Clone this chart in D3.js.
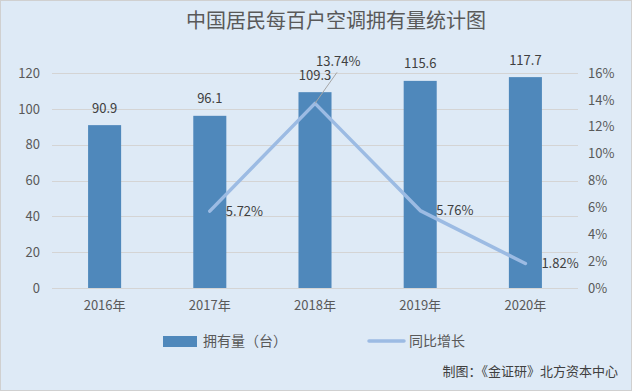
<!DOCTYPE html>
<html>
<head>
<meta charset="utf-8">
<script src="https://cdn.jsdelivr.net/npm/d3@7"></script>
<style>
  html, body { margin: 0; padding: 0; background: #fff; }
  svg text { font-family: "Noto Sans CJK SC", "Noto Sans", sans-serif; }
</style>
</head>
<body>
<div id="chart"></div>
<script>
// chart data
var years = ['2016年', '2017年', '2018年', '2019年', '2020年']
var ownership = [90.9, 96.1, 109.3, 115.6, 117.7]
var growth = [null, 5.72, 13.74, 5.76, 1.82]
var leftTicks = [0, 20, 40, 60, 80, 100, 120]
var rightTicks = [0, 2, 4, 6, 8, 10, 12, 14, 16]

var width_all = 632,
  height_all = 391
var plot = { left: 52, right: 578, top: 73, bottom: 288 }

var svg = d3
  .select('#chart')
  .append('svg')
  .attr('width', width_all)
  .attr('height', height_all)

svg
  .append('rect')
  .attr('x', 0.5)
  .attr('y', 0.5)
  .attr('width', width_all - 1)
  .attr('height', height_all - 1)
  .attr('fill', '#deeaf6')
  .attr('stroke', '#d0d0d0')

svg
  .append('text')
  .attr('x', 336)
  .attr('y', 21)
  .attr('dy', '0.35em')
  .attr('text-anchor', 'middle')
  .attr('font-size', 20)
  .attr('fill', '#595959')
  .text('中国居民每百户空调拥有量统计图')

var x = d3
  .scaleBand()
  .domain(years)
  .range([plot.left, plot.right])
  .paddingInner(0.686)
  .paddingOuter(0.343)

var y = d3.scaleLinear().domain([0, 120]).range([plot.bottom, plot.top])
var y2 = d3.scaleLinear().domain([0, 16]).range([plot.bottom, plot.top])

// gridlines
svg
  .append('g')
  .selectAll('line')
  .data(leftTicks)
  .enter()
  .append('line')
  .attr('x1', plot.left)
  .attr('x2', plot.right)
  .attr('y1', d => Math.round(y(d)) + 0.5)
  .attr('y2', d => Math.round(y(d)) + 0.5)
  .attr('stroke', '#d4d4d4')

// left axis
var axisL = svg
  .append('g')
  .attr('transform', 'translate(' + plot.left + ',0)')
  .call(d3.axisLeft(y).tickValues(leftTicks).tickSize(0).tickPadding(12))
axisL.select('.domain').remove()
axisL.selectAll('text').attr('font-size', 13).attr('fill', '#595959').style('font-family', '"Noto Sans CJK SC", sans-serif')

// right axis
var axisR = svg
  .append('g')
  .attr('transform', 'translate(' + plot.right + ',0)')
  .call(
    d3
      .axisRight(y2)
      .tickValues(rightTicks)
      .tickFormat(d => d + '%')
      .tickSize(0)
      .tickPadding(10)
  )
axisR.select('.domain').remove()
axisR.selectAll('text').attr('font-size', 13).attr('fill', '#595959').style('font-family', '"Noto Sans CJK SC", sans-serif')

// bottom axis
var axisB = svg
  .append('g')
  .attr('transform', 'translate(0,' + plot.bottom + ')')
  .call(d3.axisBottom(x).tickSize(0).tickPadding(13))
axisB.select('.domain').remove()
axisB.selectAll('text').attr('font-size', 13).attr('fill', '#595959').style('font-family', '"Noto Sans CJK SC", sans-serif')

// bars
svg
  .append('g')
  .selectAll('rect')
  .data(ownership)
  .enter()
  .append('rect')
  .attr('x', (d, i) => x(years[i]))
  .attr('width', x.bandwidth())
  .attr('y', d => y(d))
  .attr('height', d => y(0) - y(d))
  .attr('fill', '#4f88bb')

svg
  .append('g')
  .selectAll('text')
  .data(ownership)
  .enter()
  .append('text')
  .attr('x', (d, i) => x(years[i]) + x.bandwidth() / 2)
  .attr('y', d => y(d) - 17)
  .attr('dy', '0.35em')
  .attr('text-anchor', 'middle')
  .attr('font-size', 13)
  .attr('fill', '#404040')
  .text(d => d)

// growth line
var cx = i => x(years[i]) + x.bandwidth() / 2
var pts = growth.map((g, i) => ({ i: i, g: g })).filter(d => d.g != null)

svg
  .append('path')
  .datum(pts)
  .attr('fill', 'none')
  .attr('stroke', '#9cbbe3')
  .attr('stroke-width', 3.5)
  .attr('stroke-linecap', 'round')
  .attr('stroke-linejoin', 'round')
  .attr(
    'd',
    d3
      .line()
      .x(d => cx(d.i))
      .y(d => y2(d.g))
  )

// leader line for the peak label
var peak = pts.find(d => d.g === d3.max(growth))
svg
  .append('line')
  .attr('x1', cx(peak.i))
  .attr('y1', y2(peak.g))
  .attr('x2', cx(peak.i) + 22)
  .attr('y2', y2(peak.g) - 31)
  .attr('stroke', '#a6a6a6')
  .attr('stroke-width', 1)

svg
  .append('g')
  .selectAll('text')
  .data(pts)
  .enter()
  .append('text')
  .attr('x', d => (d === peak ? cx(d.i) + 1 : cx(d.i) + 16))
  .attr('y', d => (d === peak ? y2(d.g) - 42 : y2(d.g)))
  .attr('dy', '0.35em')
  .attr('font-size', 13)
  .attr('fill', '#404040')
  .text(d => d.g.toFixed(2) + '%')

// legend
var legend = svg.append('g')
legend
  .append('rect')
  .attr('x', 163)
  .attr('y', 336)
  .attr('width', 34)
  .attr('height', 11)
  .attr('fill', '#4f88bb')
legend
  .append('text')
  .attr('x', 203)
  .attr('y', 341)
  .attr('dy', '0.35em')
  .attr('font-size', 14)
  .attr('fill', '#595959')
  .text('拥有量（台）')
legend
  .append('line')
  .attr('x1', 369)
  .attr('x2', 404)
  .attr('y1', 341)
  .attr('y2', 341)
  .attr('stroke', '#9cbbe3')
  .attr('stroke-width', 3.5)
  .attr('stroke-linecap', 'round')
legend
  .append('text')
  .attr('x', 409)
  .attr('y', 341)
  .attr('dy', '0.35em')
  .attr('font-size', 14)
  .attr('fill', '#595959')
  .text('同比增长')

svg
  .append('text')
  .attr('x', 618)
  .attr('y', 371)
  .attr('dy', '0.35em')
  .attr('text-anchor', 'end')
  .attr('font-size', 13)
  .attr('fill', '#404040')
  .text('制图：《金证研》北方资本中心')
</script>
</body>
</html>
